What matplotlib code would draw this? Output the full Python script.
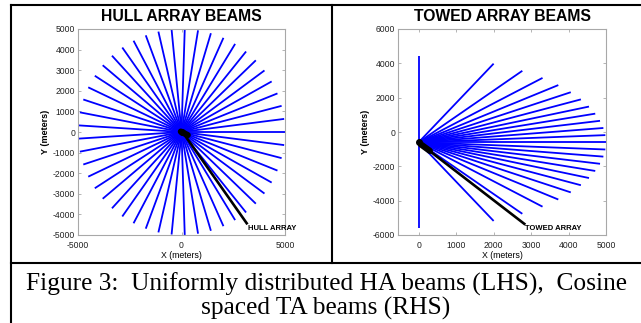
import numpy as np
import matplotlib
matplotlib.use('Agg')
import matplotlib.pyplot as plt
from matplotlib.lines import Line2D

# Hull array: beam bearings (degrees)
ha_angles = [0.0, 7.3, 14.7, 22.0, 29.4, 36.7, 44.1, 51.4, 58.8, 66.1,
             73.5, 80.8, 88.2, 95.5, 102.9, 110.2, 117.6, 124.9, 132.2,
             139.6, 146.9, 154.3, 161.6, 169.0, 176.3, 183.7, 191.0, 198.4,
             205.7, 213.1, 220.4, 227.8, 235.1, 242.4, 249.8, 257.1, 264.5,
             271.8, 279.2, 286.5, 293.9, 301.2, 308.6, 315.9, 323.3, 330.6,
             338.0, 345.3, 352.7]
ha_origin = (0, 0)
ha_length = 5000

# Towed array: cosine spaced beams (degrees from x axis)
ta_angles = [90.0, 66.4, 56.4, 48.6, 41.8, 35.7, 30.0, 24.6, 19.5, 14.5,
             9.6, 4.8, 0.0, -4.8, -9.6, -14.5, -19.5, -24.6, -30.0, -35.7,
             -41.8, -48.6, -56.4, -66.4, -90.0]
ta_origin = (0, -600)
ta_length = 5000

# black array marker + pointer line for each panel
ha_array_x = [-30, 300]
ha_array_y = [20, -150]
ha_pointer_x = [160, 3150]
ha_pointer_y = [-160, -4430]
ta_array_x = [60, 300]
ta_array_y = [-720, -1100]
ta_pointer_x = [130, 2820]
ta_pointer_y = [-830, -5350]

plt.rcParams['axes.unicode_minus'] = False

W, H = 641, 323
fig = plt.figure(figsize=(W / 100, H / 100), dpi=100)

sans = 'Liberation Sans'
serif = 'Liberation Serif'
spine_gray = '#a8a8a8'


def px_axes(x0, x1, y0, y1):
    return fig.add_axes([x0 / W, 1 - y1 / H, (x1 - x0) / W, (y1 - y0) / H])


def style(ax):
    for s in ax.spines.values():
        s.set_color(spine_gray)
        s.set_linewidth(0.8)
    ax.tick_params(direction='in', length=2.5, width=0.6, color=spine_gray,
                   labelsize=6.2, labelcolor='#222222', top=True, right=True, pad=2)
    ax.tick_params(axis='x', pad=4)
    for lab in ax.get_xticklabels() + ax.get_yticklabels():
        lab.set_family(sans)


def draw_beams(ax, origin, angles, length):
    for a in angles:
        t = np.deg2rad(a)
        ax.plot([origin[0], origin[0] + length * np.cos(t)],
                [origin[1], origin[1] + length * np.sin(t)],
                color='#0000ff', lw=1.3, solid_capstyle='butt')


# --- left: hull array ---
ax1 = px_axes(78, 285, 29, 235)
draw_beams(ax1, ha_origin, ha_angles, ha_length)
ax1.plot(ha_pointer_x, ha_pointer_y, color='black', lw=1.9)
ax1.plot(ha_array_x, ha_array_y, color='black', lw=4.5, solid_capstyle='round')
ax1.plot([0], [0], 'o', color='black', ms=4)
ax1.text(3230, -4700, 'HULL ARRAY', fontsize=5.5, fontweight='bold',
         family=sans, va='center', ha='left', clip_on=False)
ax1.set_xlim(-5000, 5000)
ax1.set_ylim(-5000, 5000)
ax1.set_xticks([-5000, 0, 5000])
ax1.set_yticks(range(-5000, 5001, 1000))
style(ax1)
ax1.set_title('HULL ARRAY BEAMS', fontsize=11.3, fontweight='bold', family=sans, pad=6)
ax1.set_xlabel('X (meters)', fontsize=6.3, family=sans, labelpad=1)
ax1.set_ylabel('Y (meters)', fontsize=6.5, fontweight='bold', family=sans, labelpad=2)

# --- right: towed array ---
ax2 = px_axes(398, 606, 29, 235)
draw_beams(ax2, ta_origin, ta_angles, ta_length)
ax2.plot(ta_pointer_x, ta_pointer_y, color='black', lw=1.9)
ax2.plot(ta_array_x, ta_array_y, color='black', lw=4.5, solid_capstyle='round')
ax2.plot([ta_origin[0]], [ta_origin[1]], 'o', color='black', ms=4)
ax2.text(2850, -5650, 'TOWED ARRAY', fontsize=5.5, fontweight='bold',
         family=sans, va='center', ha='left', clip_on=False)
ax2.set_xlim(-550, 5000)
ax2.set_ylim(-6000, 6000)
ax2.set_xticks(range(0, 5001, 1000))
ax2.set_yticks(range(-6000, 6001, 2000))
style(ax2)
ax2.set_title('TOWED ARRAY BEAMS', fontsize=11.3, fontweight='bold', family=sans, pad=6)
ax2.set_xlabel('X (meters)', fontsize=6.3, family=sans, labelpad=1)
ax2.set_ylabel('Y (meters)', fontsize=6.5, fontweight='bold', family=sans, labelpad=2)


# --- table frame ---
def frame_line(xs, ys):
    fig.add_artist(Line2D([x / W for x in xs], [1 - y / H for y in ys],
                          color='black', lw=1.5, transform=fig.transFigure))


frame_line([11, 641], [5, 5])
frame_line([11, 11], [5, 323])
frame_line([332, 332], [5, 263])
frame_line([11, 641], [263, 263])

# --- caption ---
fig.text(326 / W, 1 - 291 / H, 'Figure 3:  Uniformly distributed HA beams (LHS),  Cosine',
         fontsize=18.3, family=serif, ha='center', va='baseline')
fig.text(326 / W, 1 - 315 / H, 'spaced TA beams (RHS)',
         fontsize=18.3, family=serif, ha='center', va='baseline')

fig.savefig('out.png', dpi=100)
